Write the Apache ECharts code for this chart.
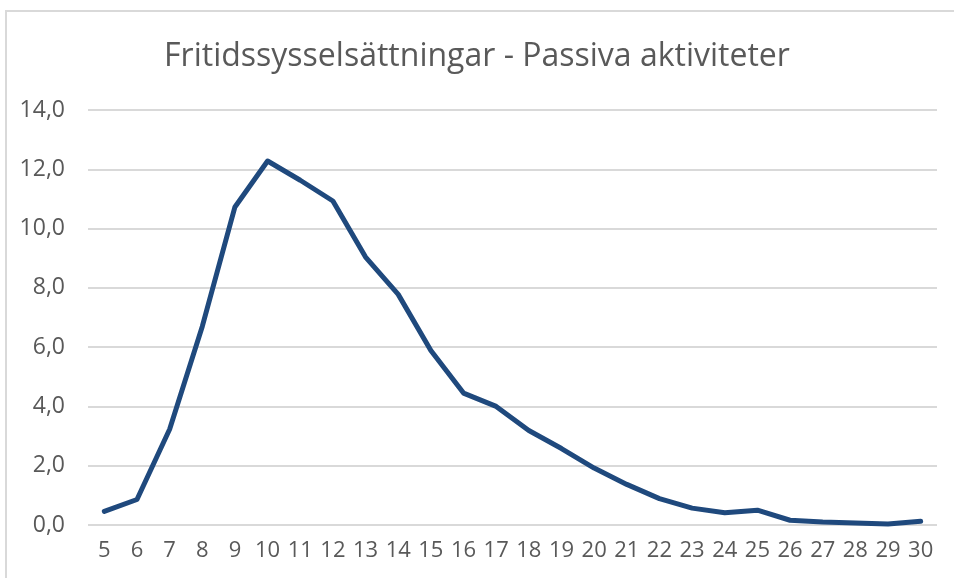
<!DOCTYPE html>
<html>
<head>
<meta charset="utf-8">
<style>html,body{margin:0;padding:0;background:#fff;}#c{width:954px;height:578px;}</style>
<script src="https://cdn.jsdelivr.net/npm/echarts@6/dist/echarts.min.js"></script>
</head>
<body>
<div id="c"></div>
<script>
const titleText = "Fritidssysselsättningar - Passiva aktiviteter";
const categories = ["5","6","7","8","9","10","11","12","13","14","15","16","17","18","19","20","21","22","23","24","25","26","27","28","29","30"];
const values = [0.46,0.86,3.23,6.7,10.73,12.28,11.63,10.93,9.04,7.78,5.89,4.45,4.0,3.19,2.58,1.92,1.37,0.89,0.57,0.41,0.50,0.16,0.10,0.07,0.03,0.13];

const chart = echarts.init(document.getElementById('c'));
chart.setOption({
  animation: false,
  backgroundColor: '#ffffff',
  graphic: [{
    type: 'rect', silent: true, z: -1,
    shape: { x: 6, y: 11, width: 1000, height: 700 },
    style: { fill: 'none', stroke: '#d9d9d9', lineWidth: 2 }
  }],
  title: {
    text: titleText, left: 'center', top: 36,
    textStyle: { fontFamily: 'Open Sans', fontSize: 32, fontWeight: 'normal', color: '#595959' }
  },
  grid: { left: 88, right: 17, top: 110, bottom: 53 },
  xAxis: {
    type: 'category', data: categories, boundaryGap: true,
    axisLine: { show: false }, axisTick: { show: false },
    axisLabel: { fontFamily: 'Open Sans', fontSize: 22, color: '#595959', margin: 15, interval: 0 }
  },
  yAxis: {
    type: 'value', min: 0, max: 14, interval: 2,
    axisLine: { show: false }, axisTick: { show: false },
    splitLine: { lineStyle: { color: '#d9d9d9', width: 2 } },
    axisLabel: { fontFamily: 'Open Sans', fontSize: 23, color: '#595959', margin: 23,
      formatter: v => v.toFixed(1).replace('.', ',') }
  },
  series: [{
    type: 'line', data: values, symbol: 'none',
    lineStyle: { color: '#1f497d', width: 5, join: 'round', cap: 'round' }
  }]
});
</script>
</body>
</html>
